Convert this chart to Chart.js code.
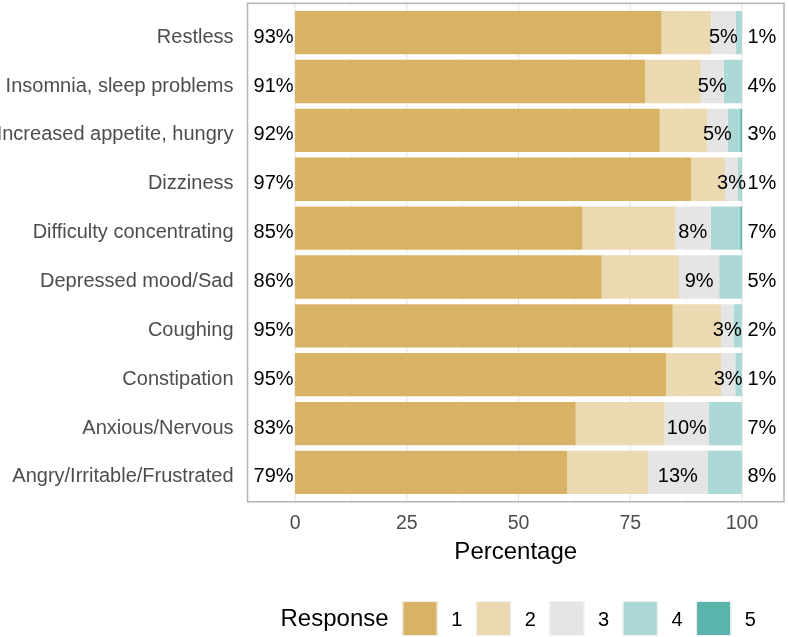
<!DOCTYPE html>
<html>
<head>
<meta charset="utf-8">
<script src="https://cdn.jsdelivr.net/npm/chart.js@4/dist/chart.umd.min.js"></script>
<style>
html,body{margin:0;padding:0;background:#ffffff;}
#wrap{width:789px;height:637px;position:relative;}
canvas{display:block;}
</style>
</head>
<body>
<div id="wrap"><canvas id="c" width="789" height="637"></canvas></div>
<script>
// ---- data ----
const categories = [
  'Restless',
  'Insomnia, sleep problems',
  'Increased appetite, hungry',
  'Dizziness',
  'Difficulty concentrating',
  'Depressed mood/Sad',
  'Coughing',
  'Constipation',
  'Anxious/Nervous',
  'Angry/Irritable/Frustrated'
];
const responseLevels = ['1', '2', '3', '4', '5'];
const resp1 = [82.0, 78.3, 81.6, 88.6, 64.3, 68.6, 84.5, 83.0, 62.8, 60.9];
const resp2 = [11.1, 12.5, 10.6,  7.6, 20.7, 17.3, 10.8, 12.3, 19.9, 18.1];
const resp3 = [ 5.5,  5.1,  4.6,  2.9,  8.0,  9.0,  2.8,  3.2,  9.9, 13.3];
const resp4 = [ 1.4,  4.1,  2.8,  0.9,  6.6,  5.1,  1.9,  1.5,  7.4,  7.7];
const resp5 = [ 0.0,  0.0,  0.4,  0.0,  0.4,  0.0,  0.0,  0.0,  0.0,  0.0];
const lowLabels     = [93, 91, 92, 97, 85, 86, 95, 95, 83, 79];
const neutralLabels = [ 5,  5,  5,  3,  8,  9,  3,  3, 10, 13];
const highLabels    = [ 1,  4,  3,  1,  7,  5,  2,  1,  7,  8];
const tickValues = [0, 25, 50, 75, 100];
const minorGridValues = [12.5, 37.5, 62.5, 87.5];
const legendTitle = 'Response';
const axisTitle = 'Percentage';

// ---- styles ----
const colors = ['#D8B365', '#EBD9B2', '#E5E5E5', '#ACD9D5', '#5AB4AC'];
const FONT = "'Liberation Sans', Arial, Helvetica, sans-serif";
const seriesValues = [resp1, resp2, resp3, resp4, resp5];

const datasets = responseLevels.map((lvl, i) => ({
  label: lvl,
  data: seriesValues[i],
  backgroundColor: colors[i],
  borderWidth: 0,
  barPercentage: 0.886,
  categoryPercentage: 1.0
}));

const decor = {
  id: 'decor',
  beforeDatasetsDraw(chart) {
    const {ctx, chartArea: a, scales: {x}} = chart;
    const pitch = (a.bottom - a.top) / categories.length;
    const top = a.top - pitch * 0.1, bottom = a.bottom + pitch * 0.1;
    ctx.save();
    minorGridValues.forEach(v => {
      const px = x.getPixelForValue(v);
      ctx.strokeStyle = '#f1f1f1'; ctx.lineWidth = 0.7;
      ctx.beginPath(); ctx.moveTo(px, top); ctx.lineTo(px, bottom); ctx.stroke();
    });
    tickValues.forEach(v => {
      const px = x.getPixelForValue(v);
      ctx.strokeStyle = '#e4e4e4'; ctx.lineWidth = 1.1;
      ctx.beginPath(); ctx.moveTo(px, top); ctx.lineTo(px, bottom); ctx.stroke();
    });
    ctx.restore();
  },
  afterDatasetsDraw(chart) {
    const {ctx, chartArea: a, scales: {x, y}} = chart;
    ctx.save();
    ctx.fillStyle = '#000';
    ctx.font = `20px ${FONT}`;
    ctx.textBaseline = 'middle';
    categories.forEach((c, i) => {
      const cy = y.getPixelForValue(i) + 4.5;
      ctx.textAlign = 'right';
      ctx.fillText(lowLabels[i] + '%', x.getPixelForValue(0) - 1.5, cy);
      ctx.textAlign = 'left';
      ctx.fillText(highLabels[i] + '%', x.getPixelForValue(100) + 5.5, cy);
      const s = resp1[i] + resp2[i];
      const mid = s + resp3[i] / 2;
      ctx.textAlign = 'center';
      ctx.fillText(neutralLabels[i] + '%', x.getPixelForValue(mid), cy);
    });
    // panel border
    const pitch = (a.bottom - a.top) / categories.length;
    const top = a.top - pitch * 0.1, bottom = a.bottom + pitch * 0.1;
    ctx.strokeStyle = '#b8b8b8';
    ctx.lineWidth = 1.6;
    ctx.strokeRect(a.left, top, a.right - a.left, bottom - top);
    ctx.restore();
  },
  afterDraw(chart) {
    const {ctx} = chart;
    ctx.save();
    ctx.textBaseline = 'middle';
    ctx.fillStyle = '#000';
    ctx.font = `24px ${FONT}`;
    ctx.textAlign = 'left';
    ctx.fillText(legendTitle, 280.5, 619);
    const boxTop = 601, box = 35, step = 73.4, x0 = 402.5;
    chart.data.datasets.forEach((ds, i) => {
      const bx = x0 + i * step;
      ctx.fillStyle = ds.backgroundColor;
      ctx.fillRect(bx, boxTop, box, box);
      ctx.strokeStyle = '#f2f2f2'; ctx.lineWidth = 1;
      ctx.strokeRect(bx + 0.5, boxTop + 0.5, box - 1, box - 1);
      ctx.fillStyle = '#000';
      ctx.font = `20px ${FONT}`;
      ctx.textAlign = 'center';
      ctx.fillText(ds.label, bx + 54.3, 620);
    });
    ctx.restore();
  }
};

new Chart(document.getElementById('c'), {
  type: 'bar',
  data: { labels: categories, datasets },
  options: {
    responsive: false,
    animation: false,
    devicePixelRatio: 1,
    indexAxis: 'y',
    layout: { padding: { left: 0, right: 5, top: 8.2, bottom: 0 } },
    plugins: { legend: { display: false }, tooltip: { enabled: false } },
    scales: {
      x: {
        stacked: true,
        min: -10.64,
        max: 109.4,
        grid: { display: false, drawTicks: false },
        border: { display: false },
        afterBuildTicks: s => { s.ticks = tickValues.map(v => ({ value: v })); },
        ticks: {
          autoSkip: false, maxRotation: 0, minRotation: 0,
          padding: 15.5,
          color: '#4d4d4d',
          font: { family: FONT, size: 19.5 },
          callback: v => String(v)
        },
        title: {
          display: true, text: axisTitle, color: '#000',
          font: { family: FONT, size: 24 },
          padding: { top: 0, bottom: 70.5 }
        },
        afterFit: s => { s.height = 140.1; s.paddingLeft = 0; s.paddingRight = 0; }
      },
      y: {
        stacked: true,
        grid: { display: false, drawTicks: false },
        border: { display: false },
        ticks: { padding: 14, labelOffset: 4.5, color: '#4d4d4d', font: { family: FONT, size: 20 } },
        afterFit: s => { s.width = 247.5; s.paddingTop = 0; s.paddingBottom = 0; }
      }
    }
  },
  plugins: [decor]
});
</script>
</body>
</html>
